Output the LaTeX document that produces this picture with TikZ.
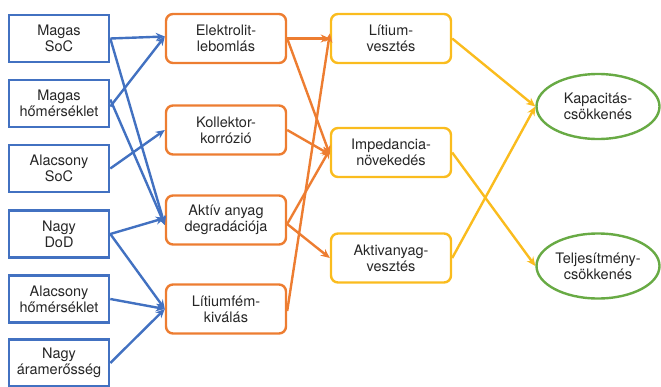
\documentclass[tikz,border=0pt]{standalone}
\usepackage{fontspec}
\setmainfont{TeX Gyre Heros}
\usetikzlibrary{arrows.meta, shapes.geometric}
\definecolor{causeblue}{RGB}{66,113,193}
\definecolor{mechorange}{RGB}{237,125,49}
\definecolor{lossyellow}{RGB}{250,188,30}
\definecolor{effgreen}{RGB}{104,170,68}

\begin{document}
\begin{tikzpicture} [x = 1pt, y = -1pt,
  every node/.style = {align = center, inner sep = 0pt, text = black!85,
    font = \fontsize{14.5}{16}\selectfont},
  cause/.style = {draw = causeblue, line width = 2.6pt, minimum width = 100pt, minimum height = 47pt},
  mech/.style = {draw = mechorange, line width = 2.4pt, rounded corners = 7pt, minimum width = 120pt, minimum height = 49pt},
  loss/.style = {draw = lossyellow, line width = 2.4pt, rounded corners = 7pt, minimum width = 120pt, minimum height = 49pt},
  effect/.style = {ellipse, draw = effgreen, line width = 2.4pt, minimum width = 123pt, minimum height = 65pt},
  link/.style = {line width = 2.4pt, -{Stealth[length = 9pt, width = 8pt]}}]
\useasboundingbox (0,0) rectangle (661,386);

% causes
\node[cause] (c1) at (59,38.5) {Magas\\SoC};
\node[cause] (c2) at (59,103.5) {Magas\\hőmérséklet};
\node[cause] (c3) at (59,168.5) {Alacsony\\SoC};
\node[cause] (c4) at (59,234) {Nagy\\DoD};
\node[cause] (c5) at (59,299) {Alacsony\\hőmérséklet};
\node[cause] (c6) at (59,363) {Nagy\\áramerősség};

% mechanisms
\node[mech] (m1) at (226,38.5) {Elektrolit-\\lebomlás};
\node[mech] (m2) at (226,130) {Kollektor-\\korrózió};
\node[mech] (m3) at (226,220) {Aktív anyag\\degradációja};
\node[mech] (m4) at (226,309) {Lítiumfém-\\kiválás};

% modes
\node[loss] (l1) at (391,38.5) {Lítium-\\vesztés};
\node[loss] (l2) at (391,152.5) {Impedancia-\\növekedés};
\node[loss] (l3) at (391,258) {Aktivanyag-\\vesztés};

% effects
\node[effect] (e1) at (598,106.5) {Kapacitás-\\csökkenés};
\node[effect] (e2) at (598,266) {Teljesítmény-\\csökkenés};

\draw [link, causeblue] (c1.east) -- ([yshift = 2pt]m1.west);
\draw [link, causeblue] (c1.east) -- ([yshift = -5pt]m3.west);
\draw [link, causeblue] ([yshift = -3pt]c2.east) -- ([yshift = 2pt]m1.west);
\draw [link, causeblue] ([yshift = 4pt]c2.east) -- ([yshift = -5pt]m3.west);
\draw [link, causeblue] (c3.east) -- (m2.west);
\draw [link, causeblue] (c4.east) -- ([yshift = 2pt]m3.west);
\draw [link, causeblue] (c4.east) -- (m4.west);
\draw [link, causeblue] (c5.east) -- (m4.west);
\draw [link, causeblue] (c6.east) -- (m4.west);

\draw [link, mechorange] (m1.east) -- (l1.west);
\draw [link, mechorange] (m1.east) -- ([yshift = -2pt]l2.west);
\draw [link, mechorange] (m2.east) -- ([yshift = -2pt]l2.west);
\draw [link, mechorange] ([yshift = -4pt]m3.east) -- ([yshift = 3pt]l2.west);
\draw [link, mechorange] ([yshift = -4pt]m3.east) -- (l3.west);
\draw [link, mechorange] ([yshift = -2pt]m4.east) -- ([yshift = 5pt]l1.west);

\draw [link, lossyellow] (l1.east) -- (e1.west);
\draw [link, lossyellow] (l2.east) -- (e2.west);
\draw [link, lossyellow] (l3.east) -- (e1.west);
\end{tikzpicture}
\end{document}
